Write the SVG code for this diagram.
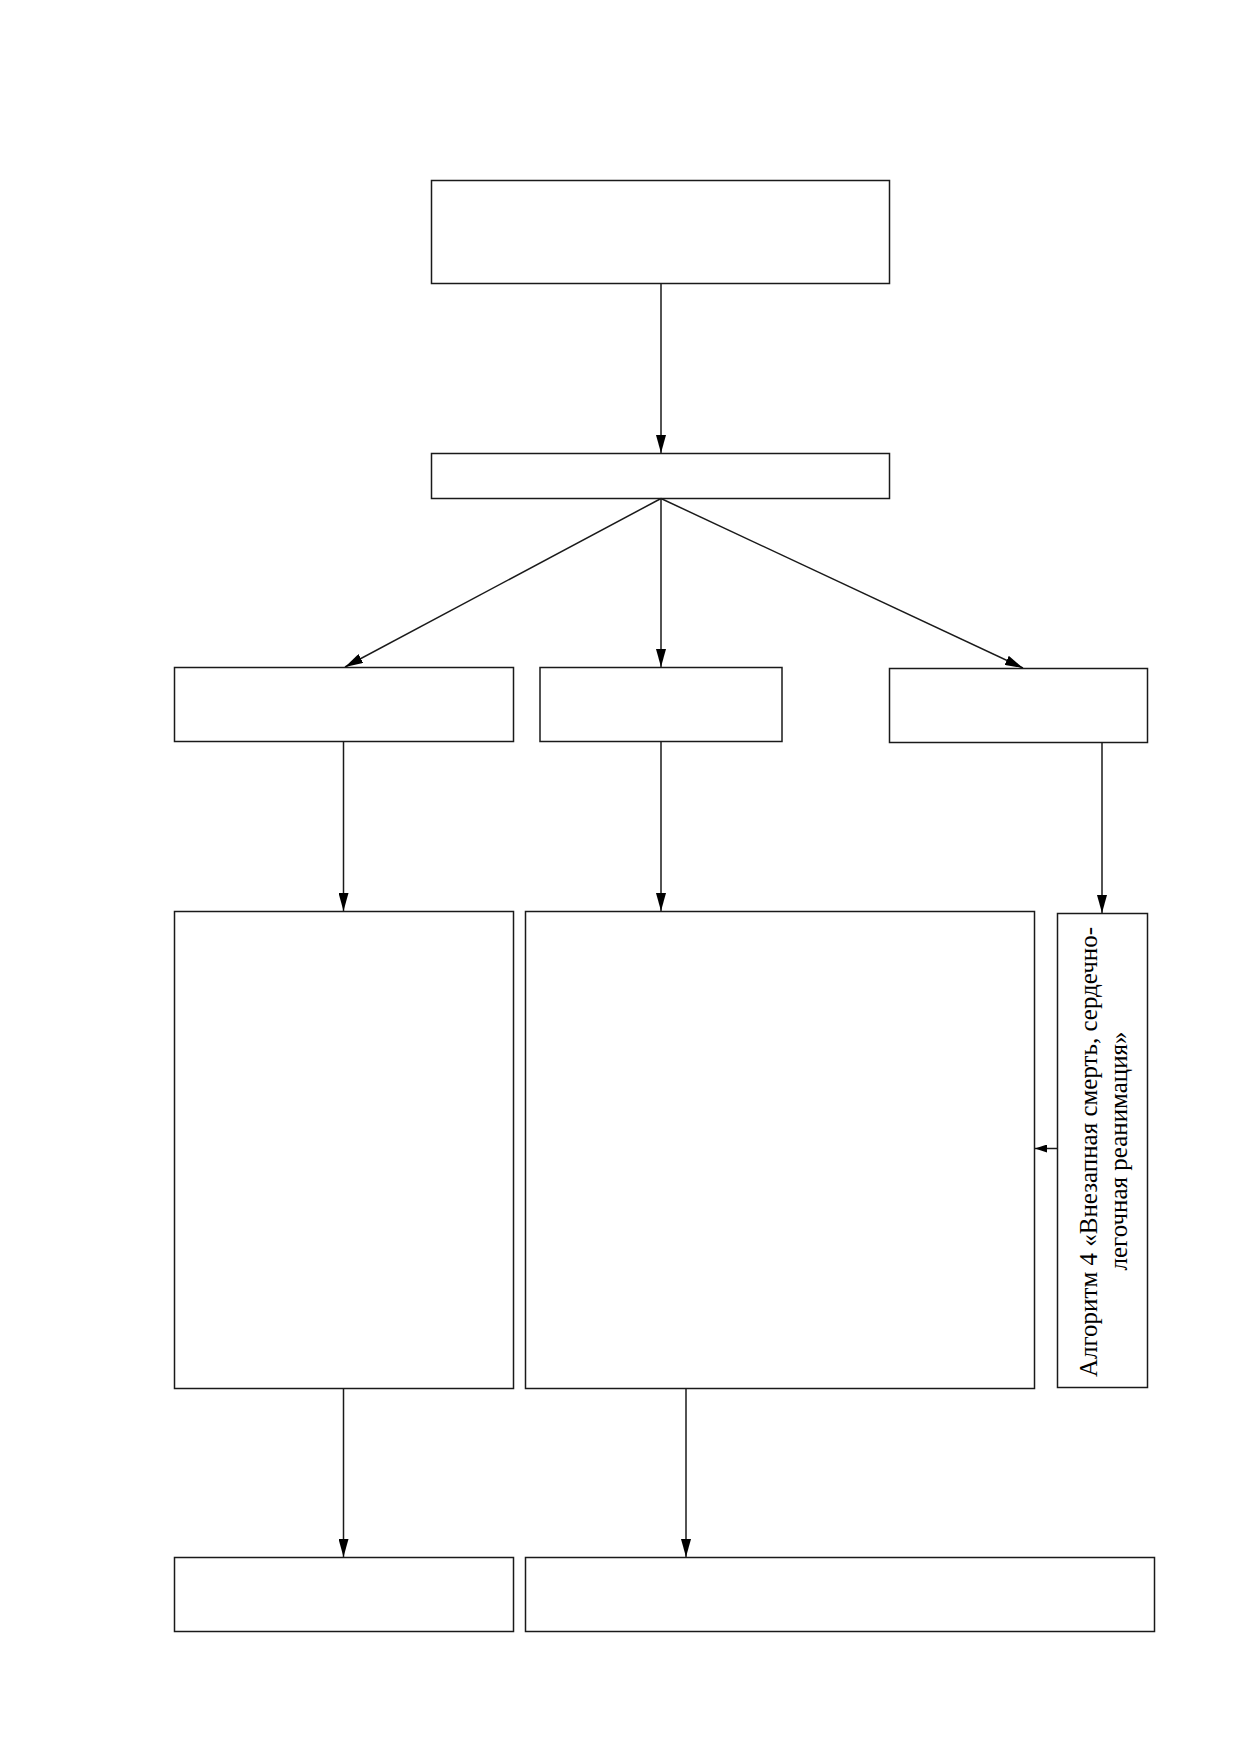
<svg xmlns="http://www.w3.org/2000/svg" width="1239" height="1752" viewBox="0 0 1239 1752">
<style>
.box{fill:#fff;stroke:#1a1a1a;stroke-width:1.5}
.con{fill:none;stroke:#1a1a1a;stroke-width:1.5}
.lbl{font-family:"Liberation Serif","Times New Roman",serif;font-size:25px;fill:#000}
</style>
<defs>
<marker id="ah" markerUnits="userSpaceOnUse" markerWidth="18" markerHeight="10" refX="18" refY="5" orient="auto"><path d="M0,0 L18,5 L0,10 z" fill="#000"/></marker>
<marker id="ahs" markerUnits="userSpaceOnUse" markerWidth="12" markerHeight="8" refX="12" refY="4" orient="auto"><path d="M0,0 L12,4 L0,8 z" fill="#000"/></marker>
</defs>
<rect width="1239" height="1752" fill="#fff"/>
<g id="n1"><rect class="box" x="431.5" y="180.5" width="458" height="103"/></g>
<g id="n2"><rect class="box" x="431.5" y="453.5" width="458" height="45"/></g>
<g id="n3"><rect class="box" x="174.5" y="667.5" width="339" height="74"/></g>
<g id="n4"><rect class="box" x="540" y="667.5" width="242" height="74"/></g>
<g id="n5"><rect class="box" x="889.5" y="668.5" width="258" height="74"/></g>
<g id="n6"><rect class="box" x="174.5" y="911.5" width="339" height="477"/></g>
<g id="n7"><rect class="box" x="525.5" y="911.5" width="509" height="477"/></g>
<g id="n8"><rect class="box" x="1057.5" y="913.5" width="90" height="474"/>
<text class="lbl" transform="translate(1097,1152) rotate(-90)" text-anchor="middle">Алгоритм 4 «Внезапная смерть, сердечно-</text>
<text class="lbl" transform="translate(1127,1151) rotate(-90)" text-anchor="middle">легочная реанимация»</text></g>
<g id="n9"><rect class="box" x="174.5" y="1557.5" width="339" height="74"/></g>
<g id="n10"><rect class="box" x="525.5" y="1557.5" width="629" height="74"/></g>
<g id="connectors">
<line class="con" x1="661" y1="283.5" x2="661" y2="453" marker-end="url(#ah)"/>
<line class="con" x1="661" y1="498.5" x2="345" y2="667" marker-end="url(#ah)"/>
<line class="con" x1="661" y1="498.5" x2="661" y2="667" marker-end="url(#ah)"/>
<line class="con" x1="661" y1="498.5" x2="1023" y2="668" marker-end="url(#ah)"/>
<line class="con" x1="343.5" y1="741.5" x2="343.5" y2="911" marker-end="url(#ah)"/>
<line class="con" x1="661" y1="741.5" x2="661" y2="911" marker-end="url(#ah)"/>
<line class="con" x1="1102" y1="742.5" x2="1102" y2="913" marker-end="url(#ah)"/>
<line class="con" x1="1057.5" y1="1148.5" x2="1035" y2="1148.5" marker-end="url(#ahs)"/>
<line class="con" x1="343.5" y1="1388.5" x2="343.5" y2="1557" marker-end="url(#ah)"/>
<line class="con" x1="686" y1="1388.5" x2="686" y2="1557" marker-end="url(#ah)"/>
</g>
</svg>
